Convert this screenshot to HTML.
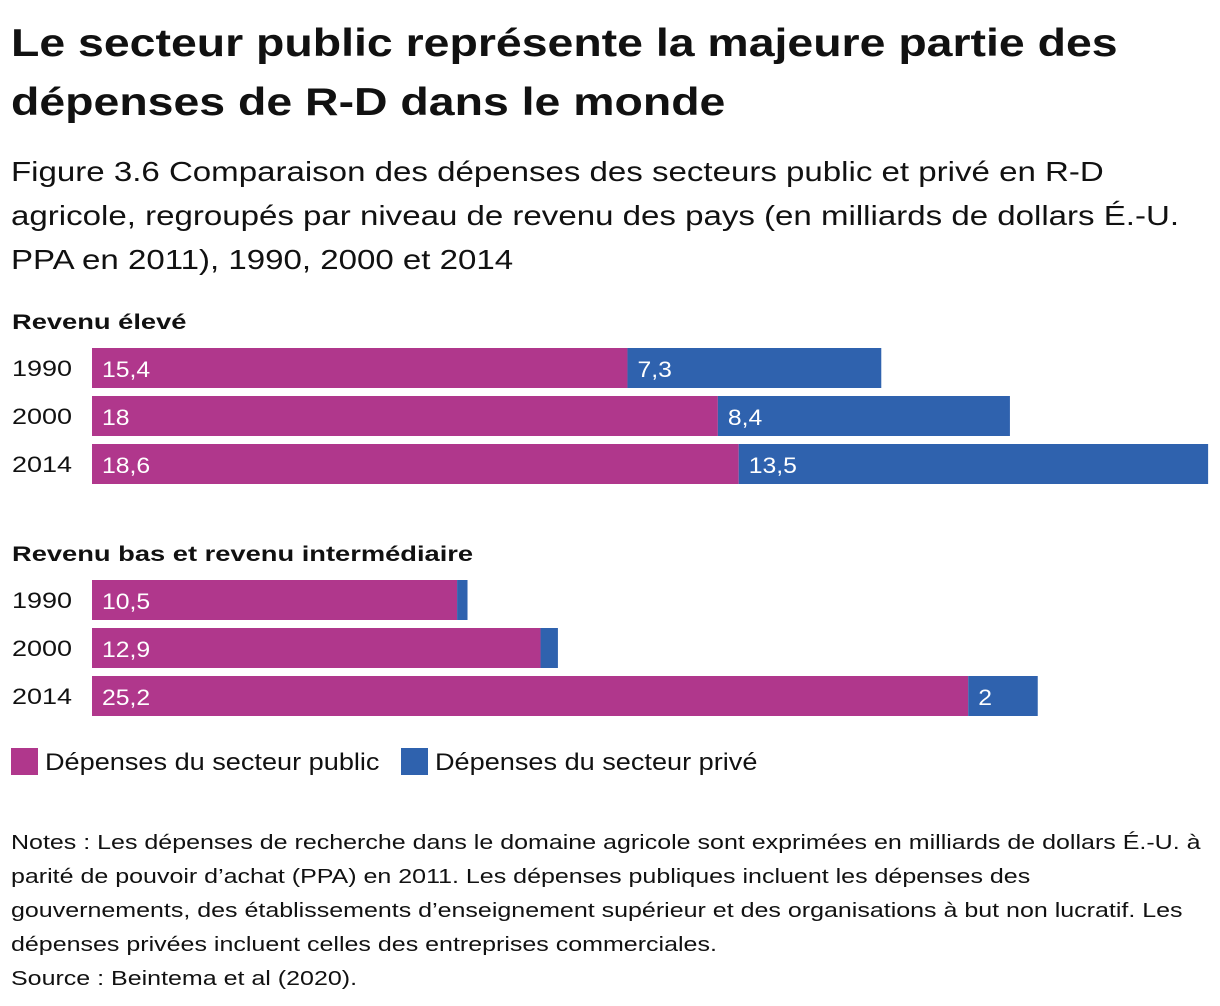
<!DOCTYPE html>
<html><head><meta charset="utf-8"><style>
body{margin:0;width:1220px;height:1006px;background:#fff;font-family:"Liberation Sans",sans-serif;color:#111;position:relative;overflow:hidden}
.abs{position:absolute;white-space:nowrap;transform-origin:0 0}
#title{left:11px;top:14px;font-size:39px;font-weight:bold;line-height:59px;transform:scaleX(1.19)}
#sub{left:11px;top:150px;font-size:28px;line-height:44px;transform:scaleX(1.18)}
.notes{left:11px;top:826px;font-size:20px;line-height:34px;transform:scaleX(1.25)}
svg text{font-family:"Liberation Sans",sans-serif}
</style></head><body>
<div class="abs" id="title">Le secteur public représente la majeure partie des<br>dépenses de R-D dans le monde</div>
<div class="abs" id="sub">Figure 3.6 Comparaison des dépenses des secteurs public et privé en R-D<br>agricole, regroupés par niveau de revenu des pays (en milliards de dollars É.-U.<br>PPA en 2011), 1990, 2000 et 2014</div>
<svg id="chart" class="abs" style="left:0;top:0" width="1220" height="790"></svg>
<div class="abs notes">Notes : Les dépenses de recherche dans le domaine agricole sont exprimées en milliards de dollars É.-U. à<br>parité de pouvoir d’achat (PPA) en 2011. Les dépenses publiques incluent les dépenses des<br>gouvernements, des établissements d’enseignement supérieur et des organisations à but non lucratif. Les<br>dépenses privées incluent celles des entreprises commerciales.<br>Source : Beintema et al (2020).</div>
<script>
const groups=["Revenu élevé","Revenu bas et revenu intermédiaire"];
const years=["1990","2000","2014"];
const publicHigh=[15.4,18,18.6];
const privateHigh=[7.3,8.4,13.5];
const publicLow=[10.5,12.9,25.2];
const privateLow=[0.3,0.5,2];
const privateLowLabels=["","","2"];
const NS="http://www.w3.org/2000/svg";
const svg=document.getElementById('chart');
const x0=92, k=34.77;
function xs(v){return v*k;}
function mk(t,a){const e=document.createElementNS(NS,t);for(const n in a)e.setAttribute(n,a[n]);svg.appendChild(e);return e;}
function fmt(v){return String(v).replace('.',',');}
function sx(e,x,f){e.setAttribute('transform','translate('+x+',0) scale('+f+',1) translate('+(-x)+',0)');}
const tops=[348,580];
const data=[[publicHigh,privateHigh,null],[publicLow,privateLow,privateLowLabels]];
groups.forEach((g,gi)=>{
  const gt=mk('text',{x:12,y:tops[gi]-19,'font-size':21.5,'font-weight':'bold',fill:'#111'});
  gt.textContent=g;
  sx(gt,12,1.27);
  
  
  const [pub,priv,lbl]=data[gi];
  years.forEach((y,i)=>{
    const top=tops[gi]+i*48;
    const yt=mk('text',{x:12,y:top+28,'font-size':22.5,fill:'#111'});
    yt.textContent=y;
    sx(yt,12,1.2);
    
    
    const pw=xs(pub[i]);
    const r1=mk('rect',{x:x0,y:top,width:pw,height:40,fill:'#b0378c'});
    
    
    const r2=mk('rect',{x:x0+pw,y:top,width:xs(priv[i]),height:40,fill:'#2f62ae'});
    
    
    const t1=mk('text',{x:x0+10,y:top+29,'font-size':22.5,fill:'#fff'});
    t1.textContent=fmt(pub[i]);
    sx(t1,x0+10,1.1);
    
    
    const pl=lbl?lbl[i]:fmt(priv[i]);
    if(pl){
      const t2=mk('text',{x:x0+pw+10,y:top+29,'font-size':22.5,fill:'#fff'});
      t2.textContent=pl;
      sx(t2,x0+pw+10,1.1);
      
      
    }
  });
});
const legend=[["Dépenses du secteur public","#b0378c",11],["Dépenses du secteur privé","#2f62ae",401]];
legend.forEach(([l,c,x])=>{
  const r=mk('rect',{x:x,y:748,width:27,height:27,fill:c});
  
  
  const t=mk('text',{x:x+34,y:770,'font-size':24,fill:'#111'});
  t.textContent=l;
  sx(t,x+34,1.13);
  
  
});
</script>
</body></html>
